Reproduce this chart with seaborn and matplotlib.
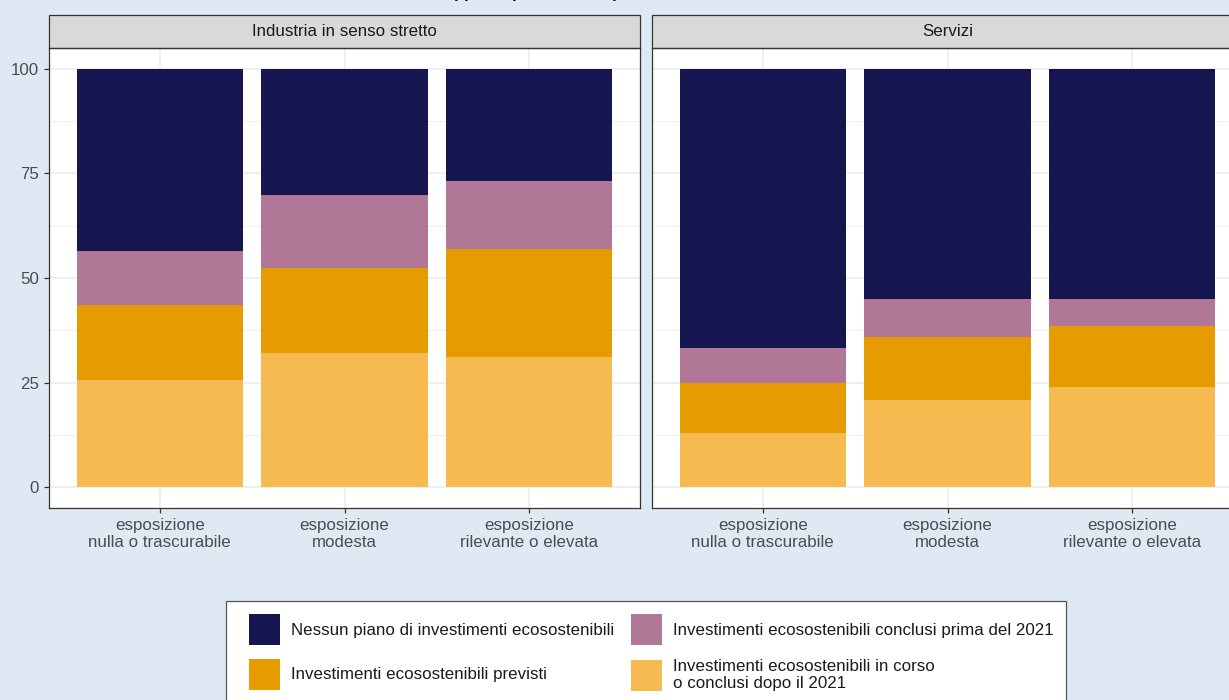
import numpy as np
import pandas as pd
import matplotlib
matplotlib.use("Agg")
import matplotlib.pyplot as plt
import matplotlib.patches as mpatches
import seaborn as sns

# categories and series (percent shares)
esposizione = ["esposizione\nnulla o trascurabile", "esposizione\nmodesta",
               "esposizione\nrilevante o elevata"]
settori = ["Industria in senso stretto", "Servizi"]

serie = ["Investimenti ecosostenibili in corso\no conclusi dopo il 2021",
         "Investimenti ecosostenibili previsti",
         "Investimenti ecosostenibili conclusi prima del 2021",
         "Nessun piano di investimenti ecosostenibili"]

# industria: in corso/dopo 2021, previsti, conclusi prima 2021, nessun piano
ind_in_corso = [25.7, 32.0, 31.0]
ind_previsti = [17.8, 20.3, 26.0]
ind_prima = [12.9, 17.6, 16.3]
ind_nessuno = [43.6, 30.1, 26.7]

serv_in_corso = [13.0, 20.8, 24.0]
serv_previsti = [11.9, 15.1, 14.5]
serv_prima = [8.4, 9.0, 6.5]
serv_nessuno = [66.7, 55.1, 55.0]

colori = ["#F5BA50", "#E69B00", "#B07896", "#15154F"]
bg = "#DEE9F3"
fs = 12.2

sns.set_theme(style="white")
plt.rcParams["font.family"] = ["Liberation Sans", "DejaVu Sans"]

fig = plt.figure(figsize=(12.29, 7.0), dpi=100, facecolor=bg)

W, H = 1229, 700
ax_w = 591 / W
ax_b = 1 - 508 / H
ax_h = 460 / H
lefts = [49 / W, 652 / W]

dati = {
    settori[0]: [ind_in_corso, ind_previsti, ind_prima, ind_nessuno],
    settori[1]: [serv_in_corso, serv_previsti, serv_prima, serv_nessuno],
}

for settore, left in zip(settori, lefts):
    ax = fig.add_axes([left, ax_b, ax_w, ax_h])
    ax.set_facecolor("white")
    valori = np.array(dati[settore])
    cumul = np.cumsum(valori, axis=0)
    # draw from the top of the stack down so each layer covers the one above
    for k in range(len(serie) - 1, -1, -1):
        df = pd.DataFrame({"cat": esposizione, "val": cumul[k]})
        sns.barplot(data=df, x="cat", y="val", color=colori[k], width=0.9,
                    saturation=1, linewidth=0, ax=ax, zorder=2)
    ax.set_xlim(-0.6, 2.6)
    ax.set_ylim(-5, 105)
    ax.set_yticks([0, 25, 50, 75, 100])
    ax.set_yticks([12.5, 37.5, 62.5, 87.5], minor=True)
    ax.set_xlabel("")
    ax.set_ylabel("")
    ax.grid(True, which="major", color="#EBEBEB", linewidth=1.1, zorder=0)
    ax.grid(True, which="minor", axis="y", color="#EBEBEB", linewidth=0.6, zorder=0)
    ax.set_axisbelow(True)
    for s in ax.spines.values():
        s.set_color("#333333")
        s.set_linewidth(0.9)
    ax.tick_params(axis="both", which="major", direction="out", length=3.6,
                   width=0.9, color="#333333", labelcolor="#4D4D4D",
                   labelsize=fs, bottom=True, left=True, pad=3.5)
    ax.tick_params(which="minor", length=0)
    if left != lefts[0]:
        ax.tick_params(axis="y", left=False, labelleft=False)
    for lab in ax.get_xticklabels():
        lab.set_linespacing(1.2)
    # facet strip
    sh = 33 / 460
    ax.add_patch(mpatches.Rectangle((0, 1), 1, sh, transform=ax.transAxes,
                                    facecolor="#D9D9D9", edgecolor="#333333",
                                    linewidth=0.9, clip_on=False))
    ax.text(0.5, 1 + sh / 2, settore, transform=ax.transAxes, ha="center",
            va="center", fontsize=fs, color="#1A1A1A")

# title, mostly cut off at the top edge
fig.text(452 / W, 1 + 3 / H, "(quota percentuale)", ha="left", va="baseline",
         fontsize=13, fontweight="bold", color="#1A1A1A")

# legend box drawn on its own so the padding can follow the reference
fig.patches.append(mpatches.Rectangle((226 / W, -0.05), 840 / W, 0.05 + 99 / H,
                                      transform=fig.transFigure, facecolor="white",
                                      edgecolor="#555555", linewidth=0.9, zorder=1))

handles = [mpatches.Patch(facecolor=colori[3], edgecolor="none", label=serie[3]),
           mpatches.Patch(facecolor=colori[1], edgecolor="none", label=serie[1]),
           mpatches.Patch(facecolor=colori[2], edgecolor="none", label=serie[2]),
           mpatches.Patch(facecolor=colori[0], edgecolor="none", label=serie[0])]
leg = fig.legend(handles=handles, ncol=2, loc="upper left",
                 bbox_to_anchor=(249 / W, 1 - 614 / H), frameon=False,
                 fontsize=fs, handlelength=1.85, handleheight=2.45,
                 handletextpad=0.65, columnspacing=0.95, labelspacing=0.8,
                 borderpad=0, borderaxespad=0)
leg.set_zorder(2)
for t in leg.get_texts():
    t.set_color("#1A1A1A")
    t.set_linespacing(1.2)

fig.savefig("out.png", dpi=100, facecolor=bg)
